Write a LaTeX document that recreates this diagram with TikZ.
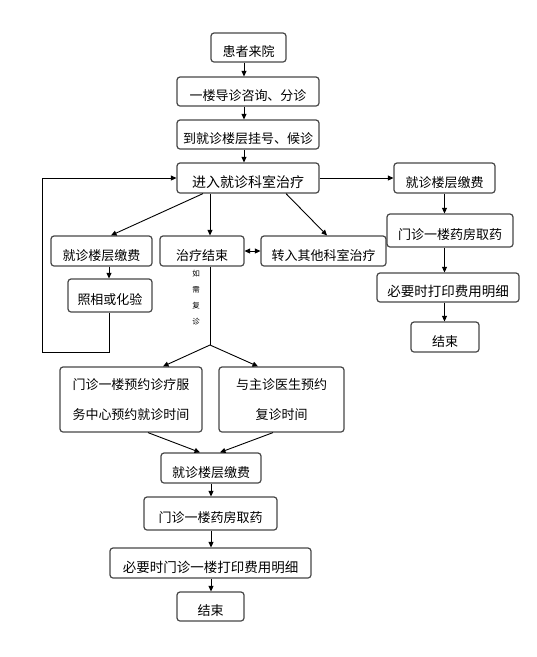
\documentclass[tikz,border=0pt]{standalone}
\usepackage{fontspec}
\newfontfamily\cjk{Noto Sans CJK SC}
\usetikzlibrary{arrows.meta}
\begin{document}
\begin{tikzpicture}[x=1pt,y=-1pt,
  box/.style={draw=black!72, line width=1.2pt, rounded corners=3pt, inner sep=0pt,
    font=\cjk\fontsize{13}{15}\selectfont, text=black},
  tb/.style={box, text height=18pt, text depth=0pt},
  con/.style={line width=0.9pt, draw=black},
  arr/.style={con, -{Triangle[length=5.5pt,width=5pt]}},
  darr/.style={con, {Triangle[length=5.5pt,width=5pt]}-{Triangle[length=5.5pt,width=5pt]}},
  vlab/.style={font=\cjk\fontsize{7.5}{16}\selectfont, align=center, inner sep=0pt}
]
\fill[white] (0,0) rectangle (537,657);
\path[use as bounding box] (0,0) rectangle (537,657);

% main column
\node[tb, minimum width=75pt,  minimum height=29pt] (n1) at (248.5,47.5) {患者来院};
\node[tb, minimum width=142pt, minimum height=29pt] (n2) at (248,91.5) {一楼导诊咨询、分诊};
\node[tb, minimum width=142pt, minimum height=29pt] (n3) at (248,134.5) {到就诊楼层挂号、候诊};
\node[tb, minimum width=142pt, minimum height=30pt, font=\cjk\fontsize{14}{16}\selectfont] (n4) at (248,178) {进入就诊科室治疗};

% second row
\node[tb, minimum width=101pt, minimum height=30pt] (n5) at (101.5,251) {就诊楼层缴费};
\node[tb, minimum width=84pt,  minimum height=30pt] (n6) at (202,251) {治疗结束};
\node[tb, minimum width=125pt, minimum height=30pt] (n7) at (323.5,251) {转入其他科室治疗};
\node[tb, minimum width=84pt,  minimum height=33pt] (n8) at (110,295.5) {照相或化验};

% right column
\node[tb, minimum width=101pt, minimum height=30pt] (r1) at (444.5,178) {就诊楼层缴费};
\node[tb, minimum width=126pt, minimum height=33pt] (r2) at (450,230.5) {门诊一楼药房取药};
\node[tb, minimum width=142pt, minimum height=29pt, font=\cjk\fontsize{13.5}{15}\selectfont] (r3) at (448,287.5) {必要时打印费用明细};
\node[tb, minimum width=68pt,  minimum height=30pt] (r4) at (445,337) {结束};

% appointment boxes
\node[box, minimum width=142pt, minimum height=65pt, align=center,
      font=\cjk\fontsize{13}{30}\selectfont] (a1) at (131,399.5) {门诊一楼预约诊疗服\\务中心预约就诊时间};
\node[box, minimum width=125pt, minimum height=65pt, align=center,
      font=\cjk\fontsize{13}{30}\selectfont] (a2) at (281.5,399.5) {与主诊医生预约\\复诊时间};

% bottom column
\node[tb, minimum width=100pt, minimum height=30pt] (b1) at (211,468) {就诊楼层缴费};
\node[tb, minimum width=133pt, minimum height=33pt] (b2) at (210.5,513.5) {门诊一楼药房取药};
\node[tb, minimum width=201pt, minimum height=30pt, font=\cjk\fontsize{13.5}{15}\selectfont] (b3) at (210.5,563) {必要时门诊一楼打印费用明细};
\node[tb, minimum width=67pt,  minimum height=29pt] (b4) at (210.5,606.5) {结束};

% vertical label
\node[vlab] (lab) at (196,297.5) {如\\需\\复\\诊};

\coordinate (lb) at (42,352);
\coordinate (br) at (210,345);

% connectors main column
\draw[arr] ([xshift=-4.5pt]n1.south) -- ([xshift=-4pt]n2.north);
\draw[arr] ([xshift=-4pt]n2.south) -- ([xshift=-4pt]n3.north);
\draw[arr] ([xshift=-4pt]n3.south) -- ([xshift=-4pt]n4.north);

\draw[arr] ([xshift=-45pt]n4.south) -- ([xshift=9.5pt]n5.north);
\draw[arr] ([xshift=-38pt]n4.south) -- ([xshift=8pt]n6.north);
\draw[arr] ([xshift=38pt]n4.south) -- ([xshift=3.5pt]n7.north);
\draw[arr] (n4.east) -- (r1.west);

\draw[arr] ([xshift=7.5pt]n5.south) -- ([xshift=-1pt]n8.north);
\draw[arr] ([xshift=-1pt]n8.south) |- (lb) |- (n4.west);
\draw[darr] (n6.east) -- (n7.west);

\draw[con] ([xshift=8pt]n6.south) -- (br);
\draw[arr] (br) -- ([xshift=32pt]a1.north);
\draw[arr] (br) -- ([xshift=-23.5pt]a2.north);
\draw[arr] ([xshift=17pt]a1.south) -- ([xshift=-11pt]b1.north);
\draw[arr] ([xshift=-8.5pt]a2.south) -- ([xshift=9pt]b1.north);

\draw[arr] (b1.south) -- (b1.south |- b2.north);
\draw[arr] (b1.south |- b2.south) -- (b1.south |- b3.north);
\draw[arr] (b1.south |- b3.south) -- (b1.south |- b4.north);

\draw[arr] (r1.south) -- (r1.south |- r2.north);
\draw[arr] (r1.south |- r2.south) -- (r1.south |- r3.north);
\draw[arr] (r1.south |- r3.south) -- (r1.south |- r4.north);
\end{tikzpicture}
\end{document}
